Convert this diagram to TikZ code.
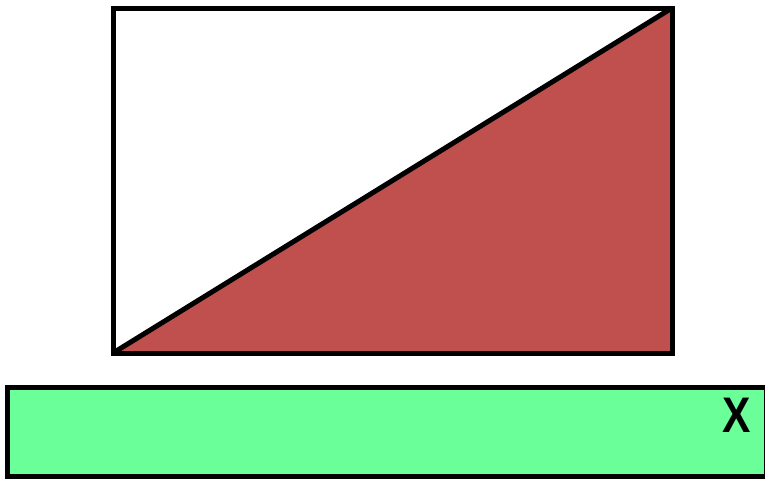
\documentclass[tikz,border=0pt]{standalone}
\usepackage{fontspec}
\setsansfont{Liberation Sans}
\usetikzlibrary{positioning}
\definecolor{wedgeRed}{HTML}{C0504D}
\definecolor{barGreen}{HTML}{6BFF9A}
\tikzset{
  outline/.style={
    draw=black, line width=5pt, line join=miter,
  },
  barlabel/.style={
    font=\sffamily\bfseries\fontsize{50}{50}\selectfont, text=black,
    inner sep=0pt,
  },
}
\begin{document}
\begin{tikzpicture}[x=1pt,y=-1pt]

  \useasboundingbox (0,0) rectangle (765,480);

  % ─── Frame corners ───────────────────────────────────────────────
  \coordinate (tl) at (113,8);
  \coordinate (tr) at (672,8);
  \coordinate (bl) at (113,353);
  \coordinate (br) at (672,353);

  % Red wedge under the diagonal
  \fill[wedgeRed] (bl) -- (br) -- (tr) -- cycle;

  % Frame and diagonal
  \draw[outline] (tl) rectangle (br);
  \draw[outline] (bl) -- (tr);

  % ─── Green bar ───────────────────────────────────────────────────
  \draw[outline, fill=barGreen] (7,387) rectangle (766.5,476);

  \node[barlabel, xscale=0.85] (xlab) at (737,415) {X};

\end{tikzpicture}
\end{document}
